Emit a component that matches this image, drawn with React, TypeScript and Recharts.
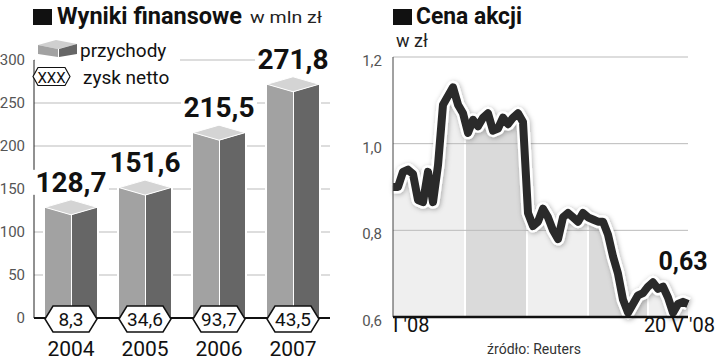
import React from 'react';
import { BarChart, Bar, XAxis, YAxis, CartesianGrid, LabelList, ComposedChart, Area, Line, ReferenceLine } from 'recharts';

const years = ['2004', '2005', '2006', '2007'];
const przychody = [128.7, 151.6, 215.5, 271.8];
const zysk = [8.3, 34.6, 93.7, 43.5];
const revTicks = [0, 50, 100, 150, 200, 250, 300];

// cena akcji, I '08 - 20 V '08
const cena = [
  0.9, 0.9, 0.935, 0.94, 0.93, 0.87, 0.865, 0.935, 0.865, 0.95,
  1.09, 1.11, 1.13, 1.09, 1.07, 1.025, 1.055, 1.04, 1.06, 1.07,
  1.03, 1.035, 1.06, 1.045, 1.06, 1.07, 1.05, 0.84, 0.81, 0.82,
  0.85, 0.83, 0.8, 0.78, 0.83, 0.84, 0.83, 0.82, 0.84, 0.83,
  0.825, 0.82, 0.82, 0.79, 0.74, 0.7, 0.64, 0.61, 0.63, 0.65,
  0.655, 0.67, 0.68, 0.665, 0.67, 0.645, 0.61, 0.63, 0.635, 0.63,
];
const priceTicks = [0.6, 0.8, 1.0, 1.2];
const dateLabels = ["I '08", "20 V '08"];
const lastPrice = 0.63;

const FONT = 'Roboto, "DejaVu Sans", sans-serif';
const fmt = (v: number, d = 1) => v.toFixed(d).replace('.', ',');

const barData = years.map((rok, i) => ({ rok, przychody: przychody[i], zysk: zysk[i] }));
const priceData = cena.map((v, i) => ({ i, cena: v }));

const DEPTH = 7.5;

const Bar3D = (props: any) => {
  const { x, y, width, height } = props;
  const cx = x + width / 2;
  const base = y + height;
  const d = DEPTH;
  return (
    <g>
      <polygon points={`${x - 2},${y} ${cx},${y - d - 2} ${x + width + 2},${y} ${x + width + 2},${base} ${x - 2},${base}`} fill="#fff" />
      <polygon points={`${x},${y} ${cx},${y + d} ${cx},${base} ${x},${base}`} fill="#a2a2a2" />
      <polygon points={`${cx + 1},${y + d} ${x + width},${y} ${x + width},${base} ${cx + 1},${base}`} fill="#666" />
      <polygon points={`${x},${y} ${cx},${y - d} ${x + width},${y} ${cx},${y + d}`} fill="#d4d4d4" stroke="#fff" strokeWidth={1} />
    </g>
  );
};

const hexPoints = (cx: number, cy: number, hw: number, hh: number, inset: number) =>
  `${cx - hw},${cy} ${cx - hw + inset},${cy - hh} ${cx + hw - inset},${cy - hh} ${cx + hw},${cy} ${cx + hw - inset},${cy + hh} ${cx - hw + inset},${cy + hh}`;

const ValueLabel = (props: any) => {
  const { x, y, width, value } = props;
  const cx = x + width / 2;
  const by = y - DEPTH - 8;
  return (
    <g>
      <rect x={cx - 38} y={by - 22} width={76} height={25} fill="#fff" />
      <text x={cx} y={by} textAnchor="middle" fontFamily={FONT} fontWeight={700} fontSize={28} fill="#111">
        {fmt(value)}
      </text>
    </g>
  );
};

const ProfitLabel = (props: any) => {
  const { x, y, width, height, value } = props;
  const cx = x + width / 2;
  const cy = y + height + 1;
  return (
    <g>
      <polygon points={hexPoints(cx, cy, 26, 13, 8)} fill="#fff" stroke="#111" strokeWidth={1.5} />
      <text x={cx} y={cy + 7} textAnchor="middle" fontFamily={FONT} fontSize={19} fill="#111">
        {fmt(value)}
      </text>
    </g>
  );
};

const YearTick = (props: any) => {
  const { x, payload } = props;
  return (
    <text x={x} y={356} textAnchor="middle" fontFamily={FONT} fontSize={21} fill="#111">
      {payload.value}
    </text>
  );
};

const PriceYTick = (props: any) => {
  const { x, y, payload } = props;
  return (
    <text x={x} y={y + 9} textAnchor="end" fontFamily={FONT} fontSize={15} fill="#555">
      {fmt(payload.value)}
    </text>
  );
};

const DateTick = (props: any) => {
  const { x, index } = props;
  const first = index === 0;
  return (
    <text x={first ? x : x + 27} y={332} textAnchor={first ? 'start' : 'end'} fontFamily={FONT} fontSize={20} fill="#111">
      {first ? dateLabels[0] : dateLabels[1]}
    </text>
  );
};

const bandStops: [number, string][] = [
  [0, '#efefef'], [0.242, '#efefef'], [0.242, '#fff'], [0.247, '#fff'], [0.247, '#dadada'],
  [0.452, '#dadada'], [0.452, '#fff'], [0.457, '#fff'], [0.457, '#efefef'],
  [0.659, '#efefef'], [0.659, '#fff'], [0.664, '#fff'], [0.664, '#dadada'],
  [0.862, '#dadada'], [0.862, '#fff'], [0.867, '#fff'], [0.867, '#efefef'], [1, '#efefef'],
];

export default function App() {
  return (
    <div style={{ position: 'absolute', left: 0, top: 0, width: 720, height: 360, background: '#fff' }}>
      <div style={{ position: 'absolute', left: 0, top: 0 }}>
        <BarChart width={360} height={360} data={barData} margin={{ top: 60, right: 30, bottom: 12, left: 4 }}>
          <CartesianGrid vertical={false} stroke="#bbb" />
          <YAxis
            width={30}
            domain={[0, 300]}
            ticks={revTicks}
            axisLine={{ stroke: '#222' }}
            tickLine={false}
            tickMargin={3}
            tick={{ fontSize: 15, fill: '#555', fontFamily: FONT }}
          />
          <XAxis dataKey="rok" height={30} axisLine={{ stroke: '#111', strokeWidth: 2 }} tickLine={false} tick={<YearTick />} />
          <Bar dataKey="przychody" barSize={52} shape={<Bar3D />} isAnimationActive={false}>
            <LabelList dataKey="przychody" content={<ValueLabel />} />
            <LabelList dataKey="zysk" content={<ProfitLabel />} />
          </Bar>
        </BarChart>
      </div>

      <div style={{ position: 'absolute', left: 360, top: 0 }}>
        <ComposedChart width={360} height={360} data={priceData} margin={{ top: 57, right: 32, bottom: 13, left: 3 }}>
          <defs>
            <linearGradient id="bands" x1="0" y1="0" x2="1" y2="0">
              {bandStops.map(([o, c], k) => (
                <stop key={k} offset={o} stopColor={c} />
              ))}
            </linearGradient>
            <filter id="glow" x="-10%" y="-10%" width="120%" height="120%">
              <feDropShadow dx="1" dy="1" stdDeviation="2.5" floodColor="#000" floodOpacity="0.3" />
            </filter>
          </defs>
          <YAxis
            width={30}
            domain={[0.6, 1.2]}
            ticks={priceTicks}
            axisLine={{ stroke: '#444' }}
            tickLine={false}
            tickMargin={5}
            tick={<PriceYTick />}
          />
          <XAxis
            type="number"
            dataKey="i"
            domain={[0, cena.length - 1]}
            ticks={[0, cena.length - 1]}
            height={30}
            axisLine={{ stroke: '#111', strokeWidth: 2.5 }}
            tickLine={false}
            tick={<DateTick />}
          />
          <Area type="linear" dataKey="cena" fill="url(#bands)" fillOpacity={1} stroke="none" isAnimationActive={false} />
          {priceTicks.slice(1).map((t) => (
            <ReferenceLine key={t} y={t} stroke="#bbb" />
          ))}
          <Line type="linear" dataKey="cena" stroke="#fff" strokeWidth={13} dot={false} strokeLinejoin="round" filter="url(#glow)" isAnimationActive={false} />
          <Line type="linear" dataKey="cena" stroke="#2a2a2a" strokeWidth={8} dot={false} strokeLinejoin="round" isAnimationActive={false} />
        </ComposedChart>
      </div>

      <svg width={720} height={360} style={{ position: 'absolute', left: 0, top: 0, pointerEvents: 'none' }}>
        <rect x={33} y={9} width={19} height={16} fill="#111" />
        <text x={57} y={24} fontFamily={FONT} fontWeight={700} fontSize={23} fill="#111" textLength={185} lengthAdjust="spacingAndGlyphs">
          Wyniki finansowe
        </text>
        <text x={250} y={23} fontFamily={FONT} fontSize={17} fill="#222" textLength={72} lengthAdjust="spacingAndGlyphs">w mln zł</text>

        <rect x={393} y={9} width={19} height={16} fill="#111" />
        <text x={416} y={24} fontFamily={FONT} fontWeight={700} fontSize={23} fill="#111" textLength={106} lengthAdjust="spacingAndGlyphs">
          Cena akcji
        </text>
        <text x={396} y={47} fontFamily={FONT} fontSize={18} fill="#222">w zł</text>

        {/* legenda */}
        <rect x={35} y={37} width={145} height={54} fill="#fff" />
        <polygon points="38,45 56,40 77,44 58,49" fill="#cfcfcf" />
        <polygon points="38,45 58,49 58,57 38,54" fill="#a2a2a2" />
        <polygon points="59,49 77,44 77,54 59,57" fill="#666" />
        <text x={80} y={57} fontFamily={FONT} fontSize={19} fill="#111">przychody</text>
        <polygon points={hexPoints(51.5, 76.5, 18.5, 9, 5)} fill="#fff" stroke="#111" strokeWidth={1.2} />
        <text x={51.5} y={82.5} textAnchor="middle" fontFamily={FONT} fontSize={15} fill="#111">XXX</text>
        <text x={83} y={84} fontFamily={FONT} fontSize={19} fill="#111">zysk netto</text>

        <text x={683} y={270} textAnchor="middle" fontFamily={FONT} fontWeight={700} fontSize={25} fill="#111">
          {fmt(lastPrice, 2)}
        </text>
        <text x={534} y={354} textAnchor="middle" fontFamily={FONT} fontSize={14} fill="#333">źródło: Reuters</text>
      </svg>
    </div>
  );
}
